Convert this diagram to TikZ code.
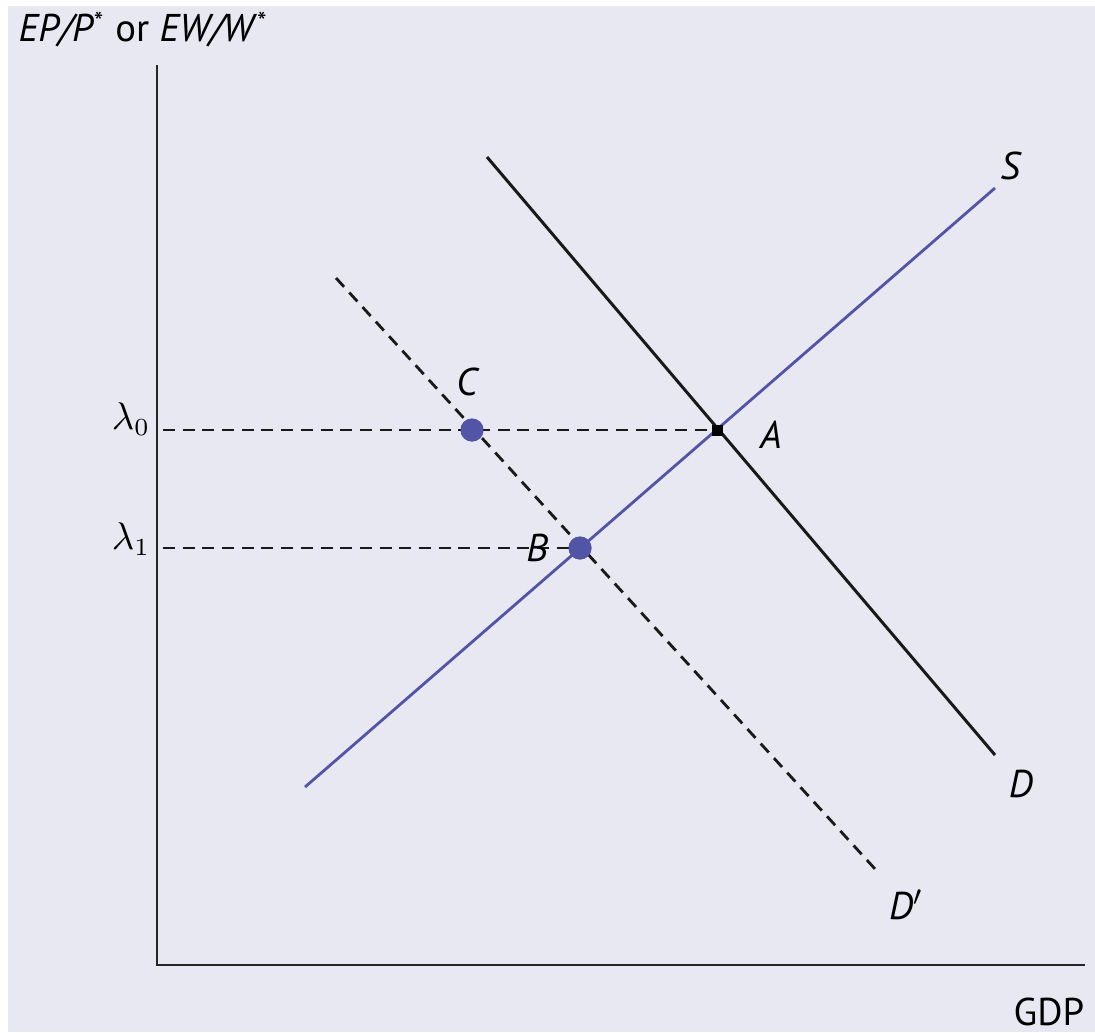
\documentclass[tikz,border=0pt]{standalone}
\usepackage{fontspec}
\setmainfont{PT Sans}
\usepackage{tikz}
\definecolor{panelbg}{HTML}{E8E8F2}
\definecolor{supplyblue}{HTML}{5255A6}
\begin{document}
\begin{tikzpicture}[x=0.01cm,y=-0.01cm,font=\fontsize{11}{13}\selectfont,
  axisline/.style={draw=black!85,line width=0.8pt},
  curveline/.style={draw=black!90,line width=0.85pt},
  guideline/.style={draw=black!90,line width=0.75pt,dash pattern=on 3.4pt off 2.2pt},
  eqdot/.style={circle,fill=supplyblue,inner sep=0pt,minimum size=2.3mm},
  curvelabel/.style={inner sep=1pt,font=\fontsize{11}{13}\selectfont\itshape}]
\useasboundingbox (0,0) rectangle (1095,1032);
\fill[white] (0,0) rectangle (1095,1032);
\fill[panelbg] (8,6) rectangle (1095,1032);
% axes
\coordinate (origin) at (157,965);
\coordinate (ytop) at (157,65);
\coordinate (xend) at (1085,965);
\draw[axisline] (ytop) -- (origin) -- (xend);
\node[anchor=west,inner sep=0pt] (ylabel) at (18,30) {\textit{EP/P}\raisebox{-0.2ex}{\textsuperscript{*}} or \textit{EW/W}\raisebox{-0.2ex}{\textsuperscript{*}}};
\node[anchor=east,inner sep=0pt] (xlabel) at (1085,1012) {GDP};
% curve ends
\coordinate (Dtop) at (487,157);
\coordinate (Dbot) at (995,755);
\coordinate (Sbot) at (305,787);
\coordinate (Stop) at (995,188);
\coordinate (Dptop) at (336,278);
\coordinate (Dpbot) at (876,870);
% equilibrium points
\coordinate (A) at (717,430);
\coordinate (lam0) at (163,430);
\coordinate (lam1) at (163,548);
\node[eqdot] (C) at (472,430) {};
\node[eqdot] (B) at (580,548) {};
% guide lines
\draw[guideline] (lam0) -- (A);
\draw[guideline] (lam1) -- (B.center);
% curves
\draw[curveline] (Dtop) -- (Dbot);
\draw[draw=supplyblue,line width=0.8pt] (Sbot) -- (Stop);
\draw[guideline,line width=0.8pt] (Dptop) -- (Dpbot);
\node[eqdot] at (C.center) {};
\node[eqdot] at (B.center) {};
\node[rectangle,fill=black,inner sep=0pt,minimum size=1.1mm] (Amark) at (A) {};
% labels
\node[curvelabel] (Alabel) at (771,435) {A};
\node[curvelabel] (Blabel) at (537,548) {B};
\node[curvelabel] (Clabel) at (467,382) {C};
\node[curvelabel] (Slabel) at (1010,166) {S};
\node[curvelabel] (Dlabel) at (1021,784) {D};
\node[curvelabel] (Dplabel) at (906,905) {D$'$};
\node[inner sep=0pt,font=\fontsize{10.5}{12}\selectfont] (lam0label) at (131,419) {$\lambda_0$};
\node[inner sep=0pt,font=\fontsize{10.5}{12}\selectfont] (lam1label) at (131,539) {$\lambda_1$};
\end{tikzpicture}
\end{document}
